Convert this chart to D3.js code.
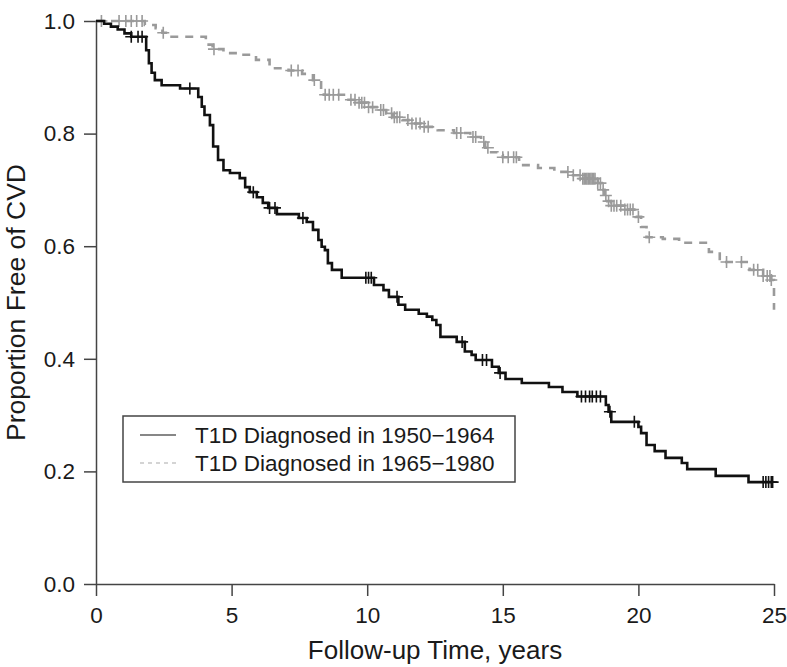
<!DOCTYPE html>
<html><head><meta charset="utf-8">
<script src="https://cdn.jsdelivr.net/npm/d3@7"></script>
<style>body{margin:0;background:#fff}svg{display:block}text{font-family:"Liberation Sans",Arial,sans-serif}</style>
</head><body><svg id="c" width="787" height="667"></svg>
<script>
// ---- data ----
const seriesNames = ["T1D Diagnosed in 1950\u22121964", "T1D Diagnosed in 1965\u22121980"];
const xTicks = [0, 5, 10, 15, 20, 25];
const yTicks = [0.0, 0.2, 0.4, 0.6, 0.8, 1.0];

const earlyTimes = [0, 0.3, 0.55, 0.8, 1.05, 1.3, 1.85, 1.95, 2.05, 2.17, 2.42, 3.1, 3.77, 3.9, 4.0, 4.2, 4.32, 4.5, 4.7, 4.94, 5.3, 5.5, 5.67, 5.93, 6.15, 6.35, 6.67, 7.48, 7.77, 8.0, 8.2, 8.32, 8.44, 8.55, 8.7, 9.06, 10.25, 10.6, 10.8, 11.15, 11.4, 11.9, 12.2, 12.4, 12.55, 12.7, 13.3, 13.6, 13.85, 14.0, 14.6, 14.85, 15.1, 15.7, 16.7, 17.2, 17.75, 18.8, 18.9, 19.0, 20.0, 20.1, 20.3, 20.6, 21.0, 21.6, 21.8, 22.85, 24.06, 24.95];
const earlySurv  = [1.0, 0.995, 0.99, 0.985, 0.978, 0.972, 0.948, 0.925, 0.908, 0.895, 0.886, 0.88, 0.865, 0.848, 0.833, 0.815, 0.777, 0.753, 0.735, 0.73, 0.721, 0.705, 0.696, 0.687, 0.677, 0.668, 0.657, 0.650, 0.643, 0.629, 0.611, 0.599, 0.593, 0.570, 0.558, 0.544, 0.531, 0.522, 0.510, 0.496, 0.487, 0.480, 0.475, 0.469, 0.460, 0.439, 0.430, 0.413, 0.407, 0.398, 0.386, 0.375, 0.364, 0.357, 0.350, 0.341, 0.333, 0.318, 0.306, 0.288, 0.279, 0.268, 0.247, 0.236, 0.224, 0.215, 0.204, 0.192, 0.181, 0.181];
const earlyCensor = [1.3, 1.55, 1.7, 3.46, 5.8, 6.4, 6.6, 7.63, 9.95, 10.05, 10.15, 11.1, 13.5, 14.25, 14.4, 14.9, 17.9, 18.05, 18.2, 18.3, 18.45, 18.6, 18.95, 19.85, 24.6, 24.7, 24.8, 24.9, 24.95];

const lateTimes = [0, 1.8, 2.2, 2.45, 2.7, 4.05, 4.3, 4.7, 5.3, 5.9, 6.4, 7.1, 7.6, 8.0, 8.3, 8.4, 9.2, 9.6, 10.0, 10.5, 10.7, 10.95, 11.3, 11.6, 12.0, 12.6, 13.2, 13.8, 14.2, 14.35, 14.5, 14.8, 15.0, 15.6, 16.3, 16.9, 17.5, 17.9, 18.5, 18.65, 18.75, 18.85, 19.0, 19.5, 19.9, 20.1, 20.3, 20.9, 21.5, 22.6, 23.0, 24.1, 24.6, 24.9, 25.0];
const lateSurv  = [1.0, 0.993, 0.987, 0.979, 0.972, 0.958, 0.950, 0.943, 0.940, 0.931, 0.916, 0.912, 0.906, 0.895, 0.877, 0.869, 0.860, 0.855, 0.847, 0.842, 0.836, 0.829, 0.824, 0.818, 0.812, 0.806, 0.801, 0.794, 0.785, 0.775, 0.767, 0.762, 0.758, 0.744, 0.739, 0.732, 0.726, 0.720, 0.712, 0.700, 0.690, 0.680, 0.672, 0.665, 0.652, 0.634, 0.616, 0.613, 0.606, 0.590, 0.572, 0.558, 0.547, 0.540, 0.487];
const lateCensor = [0.2, 0.85, 1.1, 1.3, 1.5, 1.7, 2.48, 4.35, 7.2, 7.45, 8.05, 8.45, 8.6, 8.75, 8.95, 9.4, 9.55, 9.7, 9.8, 9.9, 10.05, 10.2, 10.5, 10.6, 10.9, 11.0, 11.1, 11.2, 11.5, 11.65, 11.8, 11.95, 12.1, 12.25, 13.3, 13.45, 13.9, 14.0, 14.3, 14.45, 15.0, 15.2, 15.4, 15.5, 17.4, 17.6, 17.85, 17.95, 18.0, 18.05, 18.1, 18.15, 18.2, 18.25, 18.3, 18.35, 18.4, 18.5, 18.6, 18.7, 18.8, 18.9, 19.0, 19.1, 19.2, 19.35, 19.5, 19.6, 19.7, 19.8, 20.0, 20.4, 23.25, 23.8, 24.25, 24.4, 24.6, 24.75, 24.85, 24.9];

// ---- chart ----
const svg = d3.select("#c");
const x = d3.scaleLinear().domain([0, 25]).range([96, 774]);
const y = d3.scaleLinear().domain([0, 1]).range([584, 21]);
const axisColor = "#444";

const gx = svg.append("g").attr("transform", `translate(0,${y(0)})`)
  .call(d3.axisBottom(x).tickValues(xTicks).tickSize(12).tickSizeOuter(0).tickPadding(11).tickFormat(d3.format("d")));
const gy = svg.append("g").attr("transform", `translate(${x(0)},0)`)
  .call(d3.axisLeft(y).tickValues(yTicks).tickSize(12).tickSizeOuter(0).tickPadding(9).tickFormat(d3.format(".1f")));
[gx, gy].forEach(g => {
  g.selectAll("path.domain").attr("stroke", axisColor).attr("stroke-width", 1.5);
  g.selectAll(".tick line").attr("stroke", axisColor).attr("stroke-width", 1.5);
  g.selectAll(".tick text").attr("fill", "#1a1a1a").style("font-size", "22.5px");
});

svg.append("text").attr("x", (x(0) + x(25)) / 2).attr("y", 659).attr("text-anchor", "middle")
  .style("font-size", "26px").attr("fill", "#1a1a1a").text("Follow-up Time, years");
svg.append("text").attr("transform", `translate(25,${(y(0) + y(1)) / 2}) rotate(-90)`).attr("text-anchor", "middle")
  .style("font-size", "26.5px").attr("fill", "#1a1a1a").text("Proportion Free of CVD");

function mk(times, surv) { return times.map((t, i) => [t, surv[i]]); }
function survAt(times, surv, t) { const i = d3.bisectRight(times, t) - 1; return surv[Math.max(0, i)]; }
const line = d3.line().x(d => x(d[0])).y(d => y(d[1])).curve(d3.curveStepAfter);

const series = [
  { times: lateTimes, surv: lateSurv, cens: lateCensor, color: "#9a9a9a", dash: "8,7", w: 2.6 },
  { times: earlyTimes, surv: earlySurv, cens: earlyCensor, color: "#111", dash: null, w: 2.6 }
];
series.forEach(s => {
  svg.append("path").datum(mk(s.times, s.surv)).attr("d", line).attr("fill", "none")
    .attr("stroke", s.color).attr("stroke-width", s.w).attr("stroke-dasharray", s.dash);
  svg.append("g").selectAll("path").data(s.cens).join("path")
    .attr("d", t => { const cx = x(t), cy = y(survAt(s.times, s.surv, t)); return `M${cx - 6},${cy}H${cx + 6}M${cx},${cy - 6}V${cy + 6}`; })
    .attr("stroke", s.color).attr("stroke-width", 1.6).attr("fill", "none");
});

// legend
const lg = svg.append("g");
lg.append("rect").attr("x", 123).attr("y", 416).attr("width", 392).attr("height", 66)
  .attr("fill", "#fff").attr("stroke", axisColor).attr("stroke-width", 1.5);
const legendStyles = [{ color: "#111", dash: null, w: 1.2 }, { color: "#aaa", dash: "4,4", w: 1.2 }];
seriesNames.forEach((n, i) => {
  const ly = 435 + i * 28;
  lg.append("line").attr("x1", 140).attr("x2", 176).attr("y1", ly).attr("y2", ly)
    .attr("stroke", legendStyles[i].color).attr("stroke-width", legendStyles[i].w).attr("stroke-dasharray", legendStyles[i].dash);
  lg.append("text").attr("x", 195).attr("y", ly).attr("dy", "0.36em").style("font-size", "22.5px").attr("fill", "#1a1a1a").text(n);
});
</script></body></html>
